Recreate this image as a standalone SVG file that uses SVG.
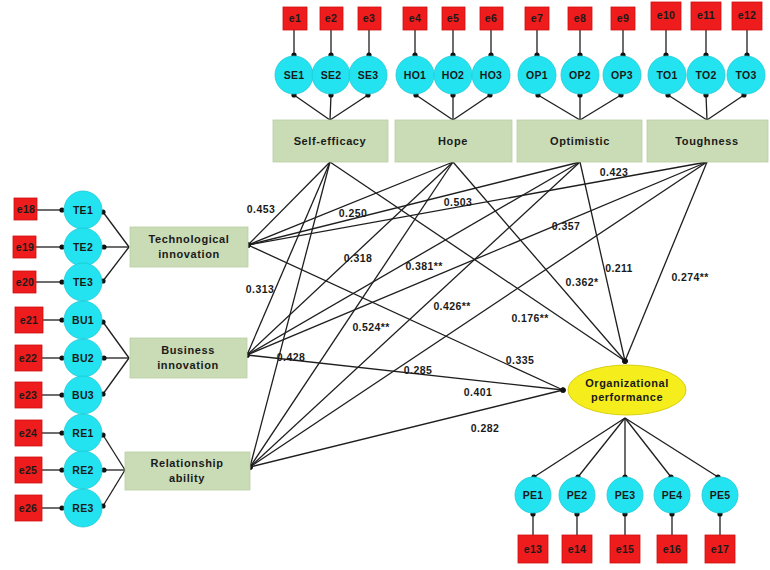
<svg xmlns="http://www.w3.org/2000/svg" width="770" height="570" viewBox="0 0 770 570">
<defs>
<marker id="dot" viewBox="0 0 6 6" refX="3" refY="3" markerWidth="6" markerHeight="6" markerUnits="userSpaceOnUse"><circle cx="3" cy="3" r="2.6" fill="#111"/></marker>
<style>
.err{fill:#ee1c1c;stroke:#d01010;stroke-width:0.8}
.ind{fill:#22e3ef;stroke:#1cc9d6;stroke-width:0.8}
.lat{fill:#c9dcb6;stroke:#b9cfa4;stroke-width:0.8}
.op{fill:#f6ee1c;stroke:#d9cf10;stroke-width:1}
text{font-family:"Liberation Sans",Arial,sans-serif;font-weight:bold;fill:#1a1a1a;text-anchor:middle}
.et{font-size:10.5px;letter-spacing:0.3px}
.it{font-size:10.5px;letter-spacing:0.3px}
.lt{font-size:11px;letter-spacing:0.6px}
.co{font-size:10.5px;letter-spacing:0.4px}
.ot{font-size:11px;letter-spacing:0.5px}
.ln{stroke:#1e1e1e;stroke-width:1.3;fill:none}
.m{marker-end:url(#dot)}
.ms{marker-start:url(#dot)}
</style>
</defs>
<rect width="770" height="570" fill="#ffffff"/>

<g id="connectors">
<!-- top error to indicator -->
<g class="ln m">
<line x1="294" y1="30" x2="294" y2="55"/><line x1="331" y1="30" x2="331" y2="55"/><line x1="369" y1="30" x2="369" y2="55"/>
<line x1="415" y1="30" x2="415" y2="55"/><line x1="453" y1="30" x2="453" y2="55"/><line x1="491" y1="30" x2="491" y2="55"/>
<line x1="537" y1="30" x2="537" y2="55"/><line x1="580" y1="30" x2="580" y2="55"/><line x1="623" y1="30" x2="623" y2="55"/>
<line x1="666" y1="30" x2="666" y2="55"/><line x1="706" y1="30" x2="706" y2="55"/><line x1="747" y1="30" x2="747" y2="55"/>
</g>
<!-- top latent to indicators -->
<g class="ln m">
<line x1="330" y1="120" x2="294" y2="95"/><line x1="330" y1="120" x2="331" y2="95"/><line x1="330" y1="120" x2="368" y2="95"/>
<line x1="453" y1="120" x2="416" y2="95"/><line x1="453" y1="120" x2="453" y2="95"/><line x1="453" y1="120" x2="490" y2="95"/>
<line x1="580" y1="120" x2="538" y2="95"/><line x1="580" y1="120" x2="580" y2="95"/><line x1="580" y1="120" x2="621" y2="95"/>
<line x1="707" y1="120" x2="668" y2="95"/><line x1="707" y1="120" x2="706" y2="95"/><line x1="707" y1="120" x2="744" y2="95"/>
</g>
<!-- left error to indicator -->
<g class="ln m">
<line x1="37" y1="210" x2="62" y2="210"/><line x1="36" y1="247" x2="62" y2="247"/><line x1="36" y1="282" x2="62" y2="282"/>
<line x1="43" y1="320" x2="62" y2="320"/><line x1="42" y1="358" x2="62" y2="358"/><line x1="42" y1="395" x2="62" y2="395"/>
<line x1="42" y1="433" x2="62" y2="433"/><line x1="42" y1="470" x2="62" y2="470"/><line x1="42" y1="508" x2="62" y2="508"/>
</g>
<!-- left latent to indicators -->
<g class="ln m">
<line x1="129" y1="247" x2="103" y2="212"/><line x1="129" y1="247" x2="104" y2="247"/><line x1="129" y1="247" x2="103" y2="281"/>
<line x1="129" y1="358" x2="103" y2="322"/><line x1="129" y1="358" x2="104" y2="358"/><line x1="129" y1="358" x2="103" y2="394"/>
<line x1="125" y1="470" x2="103" y2="435"/><line x1="125" y1="470" x2="104" y2="470"/><line x1="125" y1="470" x2="103" y2="506"/>
</g>
<!-- left constructs to top constructs -->
<g class="ln ms">
<line x1="248" y1="245" x2="330" y2="162"/><line x1="248" y1="245" x2="453" y2="162"/><line x1="248" y1="245" x2="580" y2="162"/><line x1="248" y1="245" x2="707" y2="162"/>
<line x1="247" y1="355" x2="330" y2="162"/><line x1="247" y1="355" x2="453" y2="162"/><line x1="247" y1="355" x2="580" y2="162"/><line x1="247" y1="355" x2="707" y2="162"/>
<line x1="250" y1="467" x2="330" y2="162"/><line x1="250" y1="467" x2="453" y2="162"/><line x1="250" y1="467" x2="580" y2="162"/><line x1="250" y1="467" x2="707" y2="162"/>
</g>
<!-- to organizational performance -->
<g class="ln m">
<line x1="330" y1="162" x2="625" y2="361"/><line x1="453" y1="162" x2="625" y2="361"/><line x1="580" y1="162" x2="625" y2="361"/><line x1="707" y1="162" x2="625" y2="361"/>
<line x1="248" y1="245" x2="563" y2="390"/><line x1="247" y1="355" x2="563" y2="390"/><line x1="250" y1="467" x2="563" y2="390"/>
</g>
<!-- OP to PE indicators -->
<g class="ln m">
<line x1="625" y1="418" x2="534" y2="477"/><line x1="625" y1="418" x2="578" y2="477"/><line x1="625" y1="418" x2="625" y2="477"/><line x1="625" y1="418" x2="671" y2="477"/><line x1="625" y1="418" x2="718" y2="477"/>
</g>
<g class="ln m">
<line x1="533" y1="535" x2="533" y2="514"/><line x1="577" y1="535" x2="577" y2="514"/><line x1="625" y1="535" x2="625" y2="514"/><line x1="672" y1="535" x2="672" y2="514"/><line x1="720" y1="535" x2="720" y2="514"/>
</g>
<!-- path coefficients -->
<g class="co">
<text x="261" y="213">0.453</text>
<text x="353" y="217">0.250</text>
<text x="458" y="206">0.503</text>
<text x="614" y="176">0.423</text>
<text x="566" y="230">0.357</text>
<text x="358" y="262">0.318</text>
<text x="424" y="270">0.381**</text>
<text x="260" y="293">0.313</text>
<text x="452" y="310">0.426**</text>
<text x="371" y="331">0.524**</text>
<text x="291" y="361">0.428</text>
<text x="418" y="374">0.285</text>
<text x="478" y="396">0.401</text>
<text x="485" y="432">0.282</text>
<text x="520" y="364">0.335</text>
<text x="530" y="322">0.176**</text>
<text x="582" y="286">0.362*</text>
<text x="619" y="272">0.211</text>
<text x="690" y="281">0.274**</text>
</g>
</g>

<!-- top errors -->
<g id="e1"><rect class="err" x="283" y="7" width="24" height="23"/><text class="et" x="295" y="22">e1</text></g>
<g id="e2"><rect class="err" x="320" y="7" width="23" height="23"/><text class="et" x="331" y="22">e2</text></g>
<g id="e3"><rect class="err" x="358" y="7" width="23" height="23"/><text class="et" x="369" y="22">e3</text></g>
<g id="e4"><rect class="err" x="403" y="7" width="24" height="23"/><text class="et" x="415" y="22">e4</text></g>
<g id="e5"><rect class="err" x="442" y="7" width="23" height="23"/><text class="et" x="453" y="22">e5</text></g>
<g id="e6"><rect class="err" x="480" y="7" width="23" height="23"/><text class="et" x="491" y="22">e6</text></g>
<g id="e7"><rect class="err" x="525" y="7" width="24" height="23"/><text class="et" x="537" y="22">e7</text></g>
<g id="e8"><rect class="err" x="568" y="7" width="24" height="23"/><text class="et" x="580" y="22">e8</text></g>
<g id="e9"><rect class="err" x="611" y="7" width="24" height="23"/><text class="et" x="623" y="22">e9</text></g>
<g id="e10"><rect class="err" x="651" y="2" width="30" height="28"/><text class="et" x="666" y="19">e10</text></g>
<g id="e11"><rect class="err" x="691" y="2" width="30" height="28"/><text class="et" x="706" y="19">e11</text></g>
<g id="e12"><rect class="err" x="732" y="2" width="30" height="28"/><text class="et" x="747" y="19">e12</text></g>

<!-- top indicators -->
<g id="SE1"><circle class="ind" cx="294" cy="75" r="19"/><text class="it" x="294" y="79">SE1</text></g>
<g id="SE2"><circle class="ind" cx="331" cy="75" r="19"/><text class="it" x="331" y="79">SE2</text></g>
<g id="SE3"><circle class="ind" cx="368" cy="75" r="19"/><text class="it" x="368" y="79">SE3</text></g>
<g id="HO1"><circle class="ind" cx="415" cy="75" r="19"/><text class="it" x="415" y="79">HO1</text></g>
<g id="HO2"><circle class="ind" cx="453" cy="75" r="19"/><text class="it" x="453" y="79">HO2</text></g>
<g id="HO3"><circle class="ind" cx="491" cy="75" r="19"/><text class="it" x="491" y="79">HO3</text></g>
<g id="OP1"><circle class="ind" cx="537" cy="75" r="19"/><text class="it" x="537" y="79">OP1</text></g>
<g id="OP2"><circle class="ind" cx="580" cy="75" r="19"/><text class="it" x="580" y="79">OP2</text></g>
<g id="OP3"><circle class="ind" cx="622" cy="75" r="19"/><text class="it" x="622" y="79">OP3</text></g>
<g id="TO1"><circle class="ind" cx="667" cy="75" r="19"/><text class="it" x="667" y="79">TO1</text></g>
<g id="TO2"><circle class="ind" cx="706" cy="75" r="19"/><text class="it" x="706" y="79">TO2</text></g>
<g id="TO3"><circle class="ind" cx="746" cy="75" r="19"/><text class="it" x="746" y="79">TO3</text></g>

<!-- top latents -->
<g id="self-efficacy"><rect class="lat" x="273" y="120" width="115" height="42"/><text class="lt" x="330" y="145">Self-efficacy</text></g>
<g id="hope"><rect class="lat" x="395" y="120" width="117" height="42"/><text class="lt" x="453" y="145">Hope</text></g>
<g id="optimistic"><rect class="lat" x="517" y="120" width="125" height="42"/><text class="lt" x="580" y="145">Optimistic</text></g>
<g id="toughness"><rect class="lat" x="647" y="120" width="121" height="42"/><text class="lt" x="707" y="145">Toughness</text></g>

<!-- left errors -->
<g id="e18"><rect class="err" x="14" y="198" width="23" height="22"/><text class="et" x="26" y="213">e18</text></g>
<g id="e19"><rect class="err" x="13" y="236" width="23" height="22"/><text class="et" x="25" y="251">e19</text></g>
<g id="e20"><rect class="err" x="13" y="271" width="23" height="22"/><text class="et" x="25" y="286">e20</text></g>
<g id="e21"><rect class="err" x="15" y="307" width="28" height="26"/><text class="et" x="29" y="324">e21</text></g>
<g id="e22"><rect class="err" x="15" y="345" width="27" height="26"/><text class="et" x="28" y="362">e22</text></g>
<g id="e23"><rect class="err" x="15" y="382" width="27" height="26"/><text class="et" x="28" y="399">e23</text></g>
<g id="e24"><rect class="err" x="15" y="420" width="27" height="26"/><text class="et" x="28" y="437">e24</text></g>
<g id="e25"><rect class="err" x="15" y="457" width="27" height="26"/><text class="et" x="28" y="474">e25</text></g>
<g id="e26"><rect class="err" x="15" y="495" width="27" height="26"/><text class="et" x="28" y="512">e26</text></g>

<!-- left indicators -->
<g id="TE1"><circle class="ind" cx="83" cy="210" r="19"/><text class="it" x="83" y="214">TE1</text></g>
<g id="TE2"><circle class="ind" cx="83" cy="247" r="19"/><text class="it" x="83" y="251">TE2</text></g>
<g id="TE3"><circle class="ind" cx="83" cy="282" r="19"/><text class="it" x="83" y="286">TE3</text></g>
<g id="BU1"><circle class="ind" cx="83" cy="320" r="19"/><text class="it" x="83" y="324">BU1</text></g>
<g id="BU2"><circle class="ind" cx="83" cy="358" r="19"/><text class="it" x="83" y="362">BU2</text></g>
<g id="BU3"><circle class="ind" cx="83" cy="395" r="19"/><text class="it" x="83" y="399">BU3</text></g>
<g id="RE1"><circle class="ind" cx="83" cy="433" r="19"/><text class="it" x="83" y="437">RE1</text></g>
<g id="RE2"><circle class="ind" cx="83" cy="470" r="19"/><text class="it" x="83" y="474">RE2</text></g>
<g id="RE3"><circle class="ind" cx="83" cy="508" r="19"/><text class="it" x="83" y="512">RE3</text></g>

<!-- left latents -->
<g id="technological-innovation"><rect class="lat" x="130" y="227" width="118" height="40"/><text class="lt" x="189" y="243">Technological</text><text class="lt" x="189" y="258">innovation</text></g>
<g id="business-innovation"><rect class="lat" x="130" y="338" width="117" height="40"/><text class="lt" x="188" y="354">Business</text><text class="lt" x="188" y="369">innovation</text></g>
<g id="relationship-ability"><rect class="lat" x="125" y="452" width="125" height="38"/><text class="lt" x="187" y="467">Relationship</text><text class="lt" x="187" y="482">ability</text></g>

<!-- organizational performance -->
<g id="organizational-performance"><ellipse class="op" cx="627" cy="390" rx="59" ry="25"/><text class="ot" x="627" y="387">Organizational</text><text class="ot" x="627" y="401">performance</text></g>

<!-- PE indicators -->
<g id="PE1"><circle class="ind" cx="533" cy="495" r="18"/><text class="it" x="533" y="499">PE1</text></g>
<g id="PE2"><circle class="ind" cx="577" cy="495" r="18"/><text class="it" x="577" y="499">PE2</text></g>
<g id="PE3"><circle class="ind" cx="625" cy="495" r="18"/><text class="it" x="625" y="499">PE3</text></g>
<g id="PE4"><circle class="ind" cx="672" cy="495" r="18"/><text class="it" x="672" y="499">PE4</text></g>
<g id="PE5"><circle class="ind" cx="720" cy="495" r="18"/><text class="it" x="720" y="499">PE5</text></g>

<!-- bottom errors -->
<g id="e13"><rect class="err" x="518" y="535" width="30" height="28"/><text class="et" x="533" y="553">e13</text></g>
<g id="e14"><rect class="err" x="562" y="535" width="30" height="28"/><text class="et" x="577" y="553">e14</text></g>
<g id="e15"><rect class="err" x="610" y="535" width="30" height="28"/><text class="et" x="625" y="553">e15</text></g>
<g id="e16"><rect class="err" x="657" y="535" width="30" height="28"/><text class="et" x="672" y="553">e16</text></g>
<g id="e17"><rect class="err" x="705" y="535" width="30" height="28"/><text class="et" x="720" y="553">e17</text></g>
</svg>
